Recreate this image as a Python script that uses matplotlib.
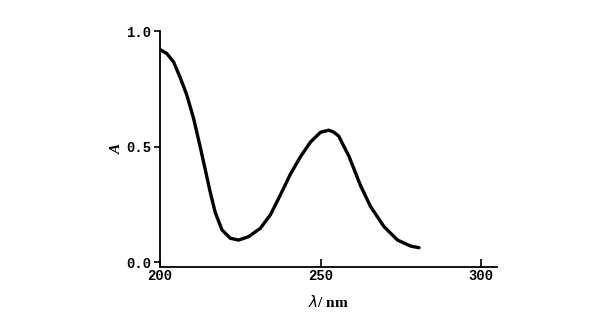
import matplotlib.pyplot as plt

# absorption spectrum
wavelength = [200.3, 202.1, 204.2, 206.25, 208.3, 210.4, 212.5, 214.1, 215.6, 217.2,
              219.3, 221.9, 224.5, 227.6, 231.25, 234.4, 237.3, 240.6, 243.75, 246.9,
              250.0, 252.6, 254.2, 255.7, 256.8, 258.8, 262.5, 265.6, 269.8, 274.0,
              278.1, 280.7]
absorbance = [0.918, 0.903, 0.867, 0.80, 0.725, 0.625, 0.50, 0.40, 0.305, 0.215,
              0.139, 0.103, 0.095, 0.11, 0.146, 0.205, 0.285, 0.38, 0.456, 0.52,
              0.562, 0.571, 0.562, 0.545, 0.514, 0.46, 0.33, 0.24, 0.153, 0.095,
              0.069, 0.062]

xticks = [200, 250, 300]
yticks = [0.0, 0.5, 1.0]
ytick_labels = ["0.0", "0.5", "1.0"]

fig = plt.figure(figsize=(6, 3.31), dpi=100)
ax = fig.add_axes([0.2667, 0.193, 0.5617, 0.713])

ax.plot(wavelength, absorbance, color="black", lw=2.4,
        solid_capstyle="round", solid_joinstyle="round")

ax.set_xlim(200, 305)
ax.set_ylim(-0.022, 1.0)

for s in ["top", "right"]:
    ax.spines[s].set_visible(False)
ax.spines["left"].set_linewidth(1.3)
ax.spines["bottom"].set_linewidth(1.3)

ax.set_xticks(xticks)
ax.set_xticklabels([str(t) for t in xticks], family="Liberation Mono",
                   fontsize=10, fontweight="bold")
ax.set_yticks(yticks)
ax.set_yticklabels(ytick_labels, family="Liberation Mono",
                   fontsize=10, fontweight="bold")
ax.tick_params(axis="x", direction="in", length=6, width=1.2, pad=1)
ax.tick_params(axis="y", direction="out", length=4, width=1.2, pad=2)

ax.set_xlabel(r"$\lambda$/ nm", family="Liberation Serif", fontsize=11,
              fontweight="bold", labelpad=8)
ax.set_ylabel("A", family="Liberation Serif", fontsize=11, style="italic",
              fontweight="bold", labelpad=2)

fig.savefig("out.png", dpi=100)
